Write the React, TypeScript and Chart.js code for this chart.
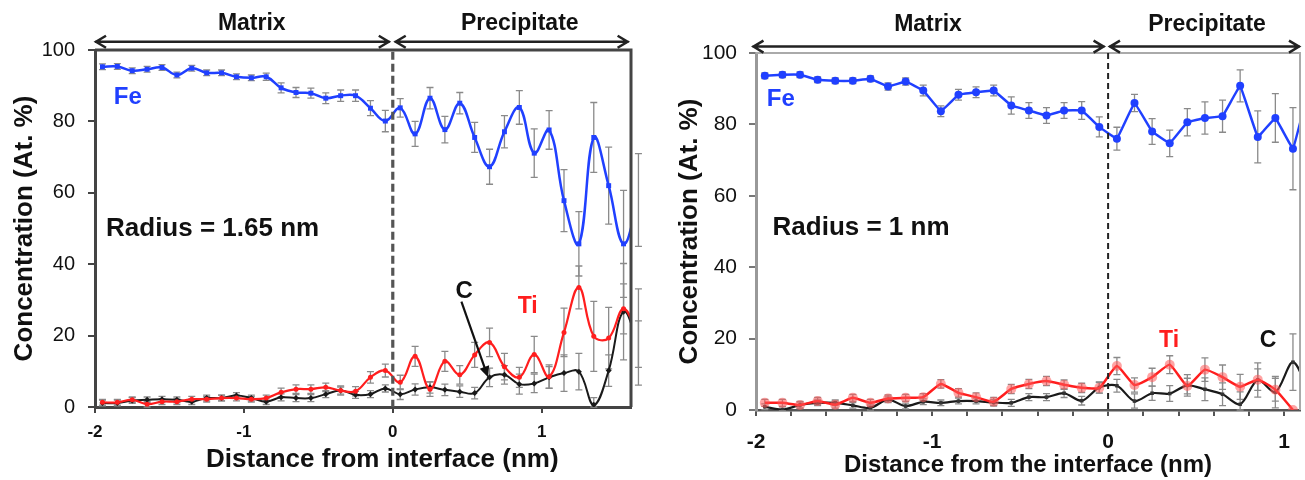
import React, { useEffect, useRef } from "react";
import { Chart, registerables } from "chart.js";

Chart.register(...registerables);

const FONT = "'Liberation Sans', Arial, Helvetica, sans-serif";

// ---------------- Left panel: Radius = 1.65 nm ----------------
const xLeft = [-1.95, -1.85, -1.75, -1.65, -1.55, -1.45, -1.35, -1.25, -1.15, -1.05, -0.95, -0.85, -0.75, -0.65, -0.55, -0.45, -0.35, -0.25, -0.15, -0.05, 0.05, 0.15, 0.25, 0.35, 0.45, 0.55, 0.65, 0.75, 0.85, 0.95, 1.05, 1.15, 1.25, 1.35, 1.45, 1.55, 1.65];
const feLeft = [95.3, 95.4, 94.2, 94.6, 95.1, 93.0, 94.9, 93.6, 93.6, 92.5, 92.2, 92.5, 89.4, 88.1, 87.9, 86.5, 87.2, 87.2, 83.7, 80.1, 83.8, 76.5, 86.5, 77.7, 85.1, 75.5, 67.3, 77.1, 83.9, 71.1, 77.6, 57.8, 45.7, 75.5, 62.0, 45.7, 58.0];
const feLeftErr = [0.8, 0.8, 0.8, 0.8, 0.8, 0.8, 0.8, 0.8, 0.8, 0.8, 0.8, 1.0, 1.4, 1.4, 1.4, 1.5, 1.6, 1.6, 2.1, 3.0, 2.6, 3.5, 3.0, 3.7, 3.0, 4.2, 4.9, 4.5, 4.7, 6.8, 5.4, 8.7, 9.0, 9.8, 10.8, 15.0, 13.0];
const tiLeft = [1.3, 1.3, 2.0, 0.8, 1.5, 1.5, 2.2, 2.2, 2.5, 2.5, 2.2, 2.5, 4.1, 5.0, 5.0, 5.5, 4.6, 4.4, 8.3, 10.2, 6.9, 14.2, 5.0, 12.8, 9.0, 14.6, 18.1, 11.3, 8.3, 14.7, 8.5, 20.9, 33.5, 19.8, 19.3, 27.5, 19.6];
const tiLeftErr = [0.8, 0.8, 0.8, 0.8, 0.8, 0.8, 0.8, 0.8, 0.8, 0.8, 0.8, 0.8, 1.2, 1.2, 1.2, 1.2, 1.3, 1.3, 1.6, 1.8, 2.0, 2.8, 2.0, 2.8, 2.6, 3.5, 4.0, 3.7, 2.8, 5.1, 3.3, 6.8, 6.0, 9.8, 8.6, 7.0, 13.5];
const cLeft = [1.1, 1.1, 1.8, 2.0, 2.2, 2.0, 1.5, 2.5, 2.5, 3.2, 2.5, 1.5, 2.7, 2.5, 2.5, 3.6, 4.6, 3.4, 3.6, 5.2, 3.6, 4.9, 5.5, 4.8, 4.3, 3.9, 8.3, 9.0, 6.4, 6.6, 8.3, 9.5, 9.9, 0.6, 10.2, 26.7, 17.6];
const cLeftErr = [0.8, 0.8, 0.8, 0.8, 0.8, 0.8, 0.8, 0.8, 0.8, 0.8, 0.8, 0.8, 1.0, 1.0, 1.0, 1.0, 1.0, 1.0, 1.0, 1.0, 1.5, 1.6, 1.6, 1.6, 1.6, 1.6, 2.6, 2.6, 2.8, 2.6, 3.0, 5.1, 5.1, 2.0, 4.4, 13.5, 6.5];
const xTicksLeft = [-2, -1, 0, 1];
const xLabelsLeft = [-2, -1, 0, 1];

// ---------------- Right panel: Radius = 1 nm ----------------
const xRight = [-1.95, -1.85, -1.75, -1.65, -1.55, -1.45, -1.35, -1.25, -1.15, -1.05, -0.95, -0.85, -0.75, -0.65, -0.55, -0.45, -0.35, -0.25, -0.15, -0.05, 0.05, 0.15, 0.25, 0.35, 0.45, 0.55, 0.65, 0.75, 0.85, 0.95, 1.05, 1.15];
const feRight = [93.6, 93.9, 93.9, 92.5, 92.2, 92.2, 92.8, 90.6, 92.0, 89.5, 83.7, 88.3, 89.0, 89.5, 85.3, 83.9, 82.5, 83.9, 83.9, 79.3, 76.0, 86.0, 78.0, 74.7, 80.6, 81.8, 82.3, 90.8, 76.5, 81.8, 73.2, 92.0];
const feRightErr = [0.8, 0.8, 0.8, 0.8, 0.8, 0.8, 0.8, 1.0, 1.0, 1.5, 1.5, 1.5, 1.5, 1.5, 2.4, 2.2, 2.2, 2.2, 2.5, 2.8, 3.2, 2.4, 3.6, 3.7, 3.8, 4.5, 4.5, 4.5, 7.3, 6.8, 11.5, 12.0];
const tiRight = [2.0, 2.0, 1.4, 2.5, 1.5, 3.4, 2.0, 3.2, 3.4, 3.6, 7.3, 4.8, 3.6, 2.3, 5.9, 7.3, 8.1, 7.1, 6.2, 6.2, 12.3, 7.0, 9.2, 12.7, 6.7, 11.3, 9.2, 6.5, 8.5, 5.7, 0];
const tiRightErr = [1.0, 1.0, 1.0, 1.0, 1.0, 1.0, 1.0, 1.0, 1.0, 1.0, 1.2, 1.2, 1.2, 1.2, 1.3, 1.3, 1.3, 1.3, 1.3, 1.5, 2.4, 2.0, 2.5, 2.5, 2.2, 3.3, 3.4, 3.5, 3.0, 3.2, 0];
const cRight = [0.9, 0.1, 1.4, 2.0, 2.0, 1.3, 0.6, 2.9, 1.1, 2.3, 2.0, 2.5, 2.5, 2.1, 2.0, 3.6, 3.6, 4.7, 2.6, 6.3, 6.8, 2.5, 4.7, 4.6, 6.9, 5.8, 4.4, 1.6, 8.4, 5.0, 13.4, 4.0];
const cRightErr = [0.8, 0.8, 0.8, 0.8, 0.8, 0.8, 0.8, 0.8, 0.8, 0.8, 0.8, 0.8, 0.8, 0.8, 1.0, 1.0, 1.0, 1.2, 1.2, 1.6, 1.8, 2.0, 2.0, 2.2, 3.0, 3.2, 3.2, 3.5, 4.8, 4.4, 7.9, 8.0];
const xTicksRight = [-2, -1.8, -1.6, -1.4, -1.2, -1, -0.8, -0.6, -0.4, -0.2, 0, 0.2, 0.4, 0.6, 0.8, 1];
const xLabelsRight = [-2, -1, 0, 1];

const yTicks = [0, 20, 40, 60, 80, 100];

const BLUE = "#2040ff";
const RED = "#ff1e1e";
const BLACK = "#1a1a1a";

// annotations (in data coordinates)
const leftNotes = {
  texts: [
    { text: "Matrix", x: -0.947, y: 107.5, size: 23, color: "#111", align: "center" },
    { text: "Precipitate", x: 0.853, y: 107.5, size: 23, color: "#111", align: "center" },
    { text: "Fe", x: -1.78, y: 86.6, size: 24, color: BLUE, align: "center" },
    { text: "Radius = 1.65 nm", x: -1.926, y: 50, size: 26, color: "#111", align: "left" },
    { text: "C", x: 0.48, y: 32.4, size: 24, color: "#111", align: "center" },
    { text: "Ti", x: 0.906, y: 28.1, size: 23, color: RED, align: "center" },
    { text: "Distance from interface (nm)", x: -0.07, y: -14.9, size: 26, color: "#111", align: "center" },
  ],
  arrows: [
    { x1: -2, x2: -0.02, y: 102.3 },
    { x1: 0.013, x2: 1.584, y: 102.3 },
  ],
  divider: { x: 0, y1: 99.5, y2: 0, width: 3.2, color: "#555", dash: [8, 4] },
  pointer: { x1: 0.461, y1: 29.5, x2: 0.64, y2: 8.3 },
  frameColor: "#444",
  frameWidth: 3,
};

const rightNotes = {
  texts: [
    { text: "Matrix", x: -1.023, y: 108, size: 23, color: "#111", align: "center" },
    { text: "Precipitate", x: 0.562, y: 108, size: 23, color: "#111", align: "center" },
    { text: "Fe", x: -1.859, y: 87.1, size: 24, color: BLUE, align: "center" },
    { text: "Radius = 1 nm", x: -1.906, y: 51, size: 26, color: "#111", align: "left" },
    { text: "Ti", x: 0.346, y: 19.5, size: 23, color: RED, align: "center" },
    { text: "C", x: 0.909, y: 19.5, size: 23, color: "#111", align: "center" },
  ],
  arrows: [
    { x1: -2.02, x2: -0.02, y: 101.8 },
    { x1: 0.005, x2: 1.09, y: 101.8 },
  ],
  divider: { x: 0, y1: 100, y2: 0, width: 2, color: "#222", dash: [6, 4] },
  pointer: null,
  frameColor: "#aaa",
  frameWidth: 2,
};

function pts(xs: number[], ys: number[]) {
  return ys.map((y, i) => ({ x: xs[i], y }));
}

function makeExtras(notes: any) {
  return {
    id: "extras",
    beforeDatasetsDraw(chart: any) {
      const { ctx } = chart;
      const xs = chart.scales.x;
      const ys = chart.scales.y;
      chart.data.datasets.forEach((ds: any) => {
        const errs = ds.errors;
        if (!errs) return;
        ctx.save();
        ctx.strokeStyle = "#8a8a8a";
        ctx.lineWidth = 1.3;
        ds.data.forEach((p: any, j: number) => {
          const e = errs[j];
          if (!e) return;
          const px = xs.getPixelForValue(p.x);
          const t = ys.getPixelForValue(p.y + e);
          const b = ys.getPixelForValue(Math.max(0, p.y - e));
          ctx.beginPath();
          ctx.moveTo(px, t);
          ctx.lineTo(px, b);
          ctx.moveTo(px - 3.5, t);
          ctx.lineTo(px + 3.5, t);
          ctx.moveTo(px - 3.5, b);
          ctx.lineTo(px + 3.5, b);
          ctx.stroke();
        });
        ctx.restore();
      });
    },
    afterDraw(chart: any) {
      const { ctx, chartArea: a } = chart;
      const xs = chart.scales.x;
      const ys = chart.scales.y;
      const X = (v: number) => xs.getPixelForValue(v);
      const Y = (v: number) => ys.getPixelForValue(v);
      ctx.save();
      // frame top & right
      ctx.strokeStyle = notes.frameColor;
      ctx.lineWidth = notes.frameWidth;
      ctx.beginPath();
      ctx.moveTo(a.left, a.top);
      ctx.lineTo(a.right, a.top);
      ctx.lineTo(a.right, a.bottom);
      ctx.stroke();
      // divider
      const d = notes.divider;
      ctx.strokeStyle = d.color;
      ctx.lineWidth = d.width;
      ctx.setLineDash(d.dash);
      ctx.beginPath();
      ctx.moveTo(X(d.x), Y(d.y1));
      ctx.lineTo(X(d.x), Y(d.y2));
      ctx.stroke();
      ctx.setLineDash([]);
      // double arrows
      ctx.strokeStyle = "#222";
      ctx.lineWidth = 2.5;
      notes.arrows.forEach((ar: any) => {
        const p1 = X(ar.x1);
        const p2 = X(ar.x2);
        const py = Y(ar.y);
        ctx.beginPath();
        ctx.moveTo(p1, py);
        ctx.lineTo(p2, py);
        ctx.moveTo(p1 + 11, py - 6);
        ctx.lineTo(p1 + 1, py);
        ctx.lineTo(p1 + 11, py + 6);
        ctx.moveTo(p2 - 11, py - 6);
        ctx.lineTo(p2 - 1, py);
        ctx.lineTo(p2 - 11, py + 6);
        ctx.stroke();
      });
      // pointer arrow
      const pt = notes.pointer;
      if (pt) {
        const x1 = X(pt.x1), y1 = Y(pt.y1), x2 = X(pt.x2), y2 = Y(pt.y2);
        const ang = Math.atan2(y2 - y1, x2 - x1);
        ctx.strokeStyle = "#111";
        ctx.fillStyle = "#111";
        ctx.lineWidth = 2.2;
        ctx.beginPath();
        ctx.moveTo(x1, y1);
        ctx.lineTo(x2 - 8 * Math.cos(ang), y2 - 8 * Math.sin(ang));
        ctx.stroke();
        ctx.beginPath();
        ctx.moveTo(x2, y2);
        ctx.lineTo(x2 - 11 * Math.cos(ang) + 5 * Math.sin(ang), y2 - 11 * Math.sin(ang) - 5 * Math.cos(ang));
        ctx.lineTo(x2 - 11 * Math.cos(ang) - 5 * Math.sin(ang), y2 - 11 * Math.sin(ang) + 5 * Math.cos(ang));
        ctx.closePath();
        ctx.fill();
      }
      // texts
      ctx.textBaseline = "middle";
      notes.texts.forEach((t: any) => {
        ctx.font = `bold ${t.size}px ${FONT}`;
        ctx.fillStyle = t.color;
        ctx.textAlign = t.align;
        ctx.fillText(t.text, X(t.x), Y(t.y));
      });
      ctx.restore();
    },
  };
}

function makeScales(p: any) {
  return {
    x: {
      type: "linear",
      min: p.xMin,
      max: p.xMax,
      afterBuildTicks: (s: any) => {
        s.ticks = p.xTicks.map((v: number) => ({ value: v }));
      },
      afterFit: (s: any) => {
        s.height = p.xAxisHeight;
      },
      ticks: {
        autoSkip: false,
        maxRotation: 0,
        minRotation: 0,
        padding: p.xTickPad,
        color: "#111",
        font: { family: FONT, size: p.xTickSize, weight: "bold" },
        callback: (v: number) => (p.xLabels.includes(v) ? String(v) : ""),
      },
      grid: { drawOnChartArea: false, drawTicks: true, tickLength: 6, color: p.xTickColor, lineWidth: 2 },
      border: { display: true, color: p.xAxisColor, width: p.xAxisWidth },
      title: {
        display: p.xTitle !== "",
        text: p.xTitle,
        color: "#111",
        font: { family: FONT, size: p.xTitleSize, weight: "bold" },
        padding: { top: 0, bottom: p.xTitlePad },
      },
    },
    y: {
      type: "linear",
      min: 0,
      max: 100,
      afterBuildTicks: (s: any) => {
        s.ticks = yTicks.map((v) => ({ value: v }));
      },
      afterFit: (s: any) => {
        s.width = p.yAxisWidth;
      },
      ticks: {
        padding: p.yTickPad,
        color: "#111",
        font: { family: FONT, size: p.yTickSize },
      },
      grid: { drawOnChartArea: false, drawTicks: true, tickLength: 7, color: p.yTickColor, lineWidth: 2 },
      border: { display: true, color: p.yAxisColor, width: p.yAxisWidth2 },
      title: {
        display: true,
        text: "Concentration (At. %)",
        color: "#111",
        font: { family: FONT, size: 26, weight: "bold" },
        padding: { top: p.yTitlePad, bottom: 0 },
      },
    },
  };
}

function leftConfig(): any {
  return {
    type: "line",
    data: {
      datasets: [
        {
          data: pts(xLeft, feLeft), errors: feLeftErr, borderColor: BLUE, backgroundColor: BLUE,
          borderWidth: 2.5, pointStyle: "rect", pointRadius: 3.5, pointBorderWidth: 0, tension: 0.4,
        },
        {
          data: pts(xLeft, tiLeft), errors: tiLeftErr, borderColor: RED, backgroundColor: RED,
          borderWidth: 2.2, pointStyle: "circle", pointRadius: 2.5, pointBorderWidth: 0, tension: 0.4,
        },
        {
          data: pts(xLeft, cLeft), errors: cLeftErr, borderColor: BLACK, backgroundColor: BLACK,
          borderWidth: 2, pointStyle: "rectRot", pointRadius: 3, pointBorderWidth: 0, tension: 0.4,
        },
      ],
    },
    options: {
      responsive: false,
      animation: false,
      events: [],
      layout: { padding: { left: 0, top: 50, right: 19, bottom: 0 } },
      plugins: { legend: { display: false }, tooltip: { enabled: false } },
      scales: makeScales({
        xMin: -2, xMax: 1.6, xTicks: xTicksLeft, xLabels: xLabelsLeft, xAxisHeight: 73, xTickPad: 9,
        xTickSize: 17, xTickColor: "#444", xAxisColor: "#444", xAxisWidth: 3,
        xTitle: "", xTitleSize: 26, xTitlePad: 4,
        yAxisWidth: 95, yTickPad: 13, yTickSize: 20, yTickColor: "#444", yAxisColor: "#444", yAxisWidth2: 3, yTitlePad: 9,
      }),
    },
    plugins: [makeExtras(leftNotes)],
  };
}

function rightConfig(): any {
  return {
    type: "line",
    data: {
      datasets: [
        {
          data: pts(xRight, feRight), errors: feRightErr, borderColor: BLUE, backgroundColor: BLUE,
          borderWidth: 2.5, pointStyle: "circle", pointRadius: 4, pointBorderWidth: 0, tension: 0.05,
        },
        {
          data: pts(xRight, tiRight), errors: tiRightErr, borderColor: RED, backgroundColor: "rgba(255,90,90,0.55)",
          borderWidth: 2.5, pointStyle: "circle", pointRadius: 5, pointBorderWidth: 0, tension: 0.15,
        },
        {
          data: pts(xRight, cRight), errors: cRightErr, borderColor: BLACK, backgroundColor: "#333",
          borderWidth: 2.2, pointStyle: "rect", pointRadius: 2.5, pointBorderWidth: 0, tension: 0.3,
        },
      ],
    },
    options: {
      responsive: false,
      animation: false,
      events: [],
      layout: { padding: { left: 0, top: 53, right: 2, bottom: 0 } },
      plugins: { legend: { display: false }, tooltip: { enabled: false } },
      scales: makeScales({
        xMin: -2, xMax: 1.09, xTicks: xTicksRight, xLabels: xLabelsRight, xAxisHeight: 70, xTickPad: 14,
        xTickSize: 21, xTickColor: "#555", xAxisColor: "#555", xAxisWidth: 2.5,
        xTitle: "Distance from the interface (nm)", xTitleSize: 24, xTitlePad: 0,
        yAxisWidth: 106, yTickPad: 12, yTickSize: 21, yTickColor: "#777", yAxisColor: "#999", yAxisWidth2: 3, yTitlePad: 24,
      }),
    },
    plugins: [makeExtras(rightNotes)],
  };
}

function ChartPanel({ make, left, width }: { make: () => any; left: number; width: number }) {
  const ref = useRef<HTMLCanvasElement>(null);
  useEffect(() => {
    const chart = new Chart(ref.current as HTMLCanvasElement, make());
    return () => chart.destroy();
  }, []);
  return (
    <canvas
      ref={ref}
      width={width}
      height={480}
      style={{ position: "absolute", left, top: 0, width, height: 480 }}
    />
  );
}

export default function App() {
  return (
    <div style={{ position: "absolute", left: 0, top: 0, width: 1305, height: 480, background: "#fff", overflow: "hidden" }}>
      <ChartPanel make={leftConfig} left={0} width={650} />
      <ChartPanel make={rightConfig} left={650} width={655} />
    </div>
  );
}
